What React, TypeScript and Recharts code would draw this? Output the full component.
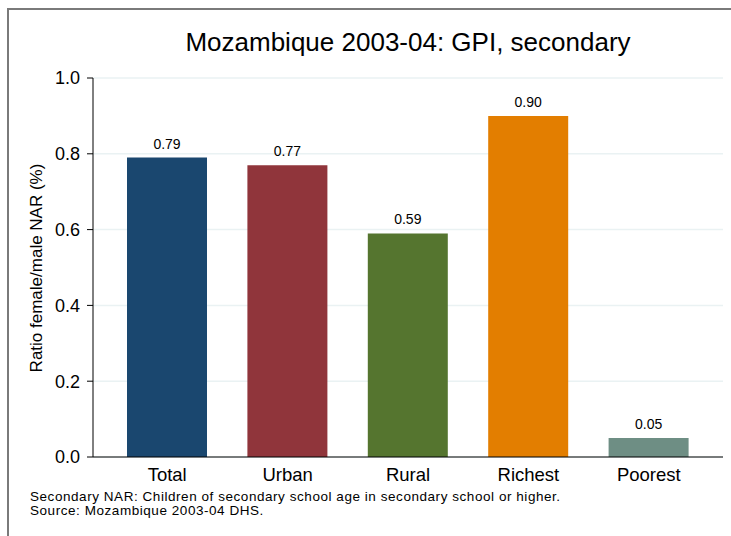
import { BarChart, Bar, XAxis, YAxis, CartesianGrid, Cell, LabelList } from "recharts";

const categories = ["Total", "Urban", "Rural", "Richest", "Poorest"];
const gpiValues = [0.79, 0.77, 0.59, 0.9, 0.05];
const barColors = ["#1a476f", "#90353b", "#55752f", "#e37e00", "#6e8e84"];
const yTicks = [0, 0.2, 0.4, 0.6, 0.8, 1.0];

const FONT = "'Liberation Sans', Arial, sans-serif";

export default function App() {
  const data = categories.map((name, i) => ({ name, gpi: gpiValues[i] }));

  return (
    <div style={{ position: "absolute", left: 0, top: 0, width: 731, height: 536, background: "#fff", fontFamily: FONT, overflow: "hidden" }}>
      {/* frame, only top and left edges are visible */}
      <div style={{ position: "absolute", left: 7, top: 8, width: 760, height: 560, borderTop: "2px solid #7a7a7a", borderLeft: "2px solid #7a7a7a" }} />
      <div style={{ position: "absolute", left: 93, width: 630, top: 27, textAlign: "center", fontSize: 26, color: "#000" }}>
        Mozambique 2003-04: GPI, secondary
      </div>
      <div
        style={{
          position: "absolute",
          left: 37,
          top: 268,
          transform: "translate(-50%, -50%) rotate(-90deg)",
          whiteSpace: "nowrap",
          fontSize: 17,
          color: "#000",
        }}
      >
        Ratio female/male NAR (%)
      </div>
      <BarChart
        width={731}
        height={536}
        data={data}
        margin={{ top: 78, right: 8, bottom: 49, left: 33 }}
        barCategoryGap={0}
      >
        <CartesianGrid vertical={false} stroke="#eaf2f3" strokeWidth={1.5} />
        <XAxis
          dataKey="name"
          height={30}
          tickLine={false}
          axisLine={{ stroke: "#000" }}
          padding={{ left: 14, right: 14 }}
          tick={{ fontSize: 18.5, fill: "#000", fontFamily: FONT }}
          tickMargin={5}
        />
        <YAxis
          width={60}
          domain={[0, 1]}
          ticks={yTicks}
          tickFormatter={(v) => Number(v).toFixed(1)}
          axisLine={{ stroke: "#000" }}
          tickLine={{ stroke: "#000" }}
          tickSize={6}
          tickMargin={7}
          tick={{ fontSize: 18, fill: "#000", fontFamily: FONT }}
        />
        <Bar dataKey="gpi" barSize={80} isAnimationActive={false}>
          {data.map((d, i) => (
            <Cell key={d.name} fill={barColors[i]} />
          ))}
          <LabelList
            dataKey="gpi"
            position="top"
            offset={9}
            formatter={(v: any) => Number(v).toFixed(2)}
            style={{ fontSize: 14, fill: "#000", fontFamily: FONT }}
          />
        </Bar>
      </BarChart>
      <div style={{ position: "absolute", left: 30, top: 490, fontSize: 13.5, letterSpacing: 0.55, lineHeight: "14px", color: "#000" }}>
        Secondary NAR: Children of secondary school age in secondary school or higher.
        <br />
        Source: Mozambique 2003-04 DHS.
      </div>
    </div>
  );
}
